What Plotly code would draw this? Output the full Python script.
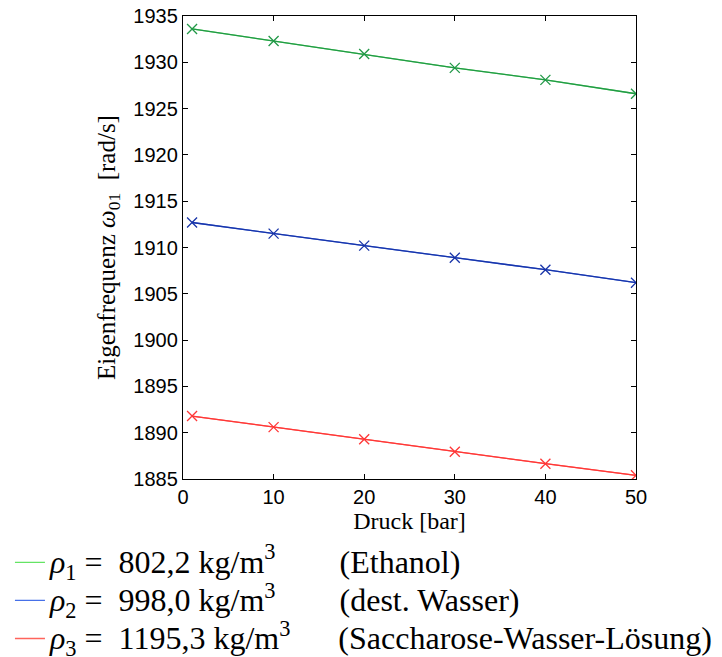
import plotly.graph_objects as go

druck = [1, 10, 20, 30, 40, 50]
ethanol = [1933.6, 1932.3, 1930.9, 1929.4, 1928.1, 1926.6]
wasser = [1912.7, 1911.5, 1910.2, 1908.9, 1907.6, 1906.2]
saccharose = [1891.8, 1890.6, 1889.3, 1887.95, 1886.65, 1885.4]

x_ticks = [0, 10, 20, 30, 40, 50]
y_ticks = [1885, 1890, 1895, 1900, 1905, 1910, 1915, 1920, 1925, 1930, 1935]

NB = "\u00a0"
SP = '<span style="font-size:32px">'
labels = [
    SP + "<i>ρ</i><sub>1</sub> = " + NB + "802,2" + NB + "kg/m<sup>3</sup>" + NB * 8 + "(Ethanol)</span>",
    SP + "<i>ρ</i><sub>2</sub> = " + NB + "998,0" + NB + "kg/m<sup>3</sup>" + NB * 8 + "(dest. Wasser)</span>",
    SP + "<i>ρ</i><sub>3</sub> = " + NB + "1195,3" + NB + "kg/m<sup>3</sup>" + NB * 6 + "(Saccharose-Wasser-Lösung)</span>",
]
series = [ethanol, wasser, saccharose]
plot_colors = ["rgb(34,152,72)", "rgb(24,52,168)", "rgb(255,55,55)"]
legend_colors = ["rgb(100,228,100)", "rgb(70,112,232)", "rgb(255,100,92)"]

SERIF = "Liberation Serif, Times New Roman, serif"
SANS = "Liberation Sans, Arial, sans-serif"

fig = go.Figure()
for ys, lab, lc in zip(series, labels, legend_colors):
    fig.add_trace(go.Scatter(x=druck, y=ys, mode="lines", name=lab,
                             line=dict(color=lc, width=1.3), showlegend=True))
for ys, pc in zip(series, plot_colors):
    fig.add_trace(go.Scatter(x=druck, y=ys, mode="lines+markers", showlegend=False,
                             line=dict(color=pc, width=1.3),
                             marker=dict(symbol="x-thin", size=10,
                                         line=dict(color=pc, width=1.3))))

axis_common = dict(showgrid=False, zeroline=False, showline=True, linecolor="black",
                   linewidth=1.3, mirror="ticks", ticks="inside", ticklen=5,
                   tickcolor="black", tickwidth=1, automargin=False,
                   ticklabeloverflow="allow",
                   tickfont=dict(family=SANS, size=20, color="black"))

fig.update_layout(
    width=722, height=657,
    font=dict(family=SERIF),
    paper_bgcolor="white", plot_bgcolor="white",
    margin=dict(l=175, r=94, t=8, b=186, autoexpand=False),
    xaxis=dict(range=[0, 50], tickvals=x_ticks, ticktext=[str(v) for v in x_ticks],
               title=dict(text="Druck [bar]", font=dict(family=SERIF, size=24, color="black"),
                          standoff=3),
               **axis_common),
    yaxis=dict(range=[1885, 1935], tickvals=y_ticks, ticktext=[str(v) for v in y_ticks],
               title=dict(text="Eigenfrequenz <i>ω</i><sub>01</sub>" + NB + NB + "[rad/s]",
                          font=dict(family=SERIF, size=25, color="black"),
                          standoff=10),
               **axis_common),
    legend=dict(x=-0.382, y=-0.398, xanchor="left", yanchor="bottom",
                font=dict(family=SERIF, size=27, color="black"),
                bgcolor="rgba(0,0,0,0)", borderwidth=0, itemwidth=30),
    showlegend=True,
)

fig.write_html("out.html")
